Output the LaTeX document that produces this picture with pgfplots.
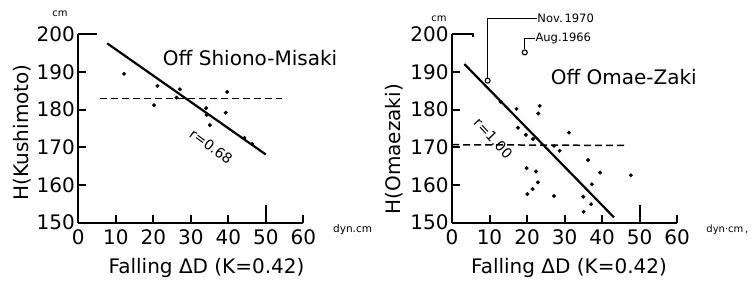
\documentclass[border=0pt]{standalone}
\usepackage{fontspec}
\setmainfont{DejaVu Sans}
\usepackage{pgfplots}
\pgfplotsset{compat=1.18}
\begin{document}
\begin{tikzpicture}
\pgfplotsset{
  panel/.style={
    scale only axis, width=225bp, height=188.4bp,
    xmin=0,xmax=60,ymin=150,ymax=200,
    axis x line*=bottom, axis y line*=left,
    axis line style={line width=1.8bp},
    xtick={0,10,...,60}, ytick={150,160,...,200},
    xtick align=inside, ytick align=inside,
    major tick length=8bp,
    every tick/.style={line width=2bp, black},
    clip=false,
    /pgf/number format/assume math mode=true,
    tick label style={font=\fontsize{20bp}{20bp}\selectfont},
    xticklabel style={yshift=-3bp},
    label style={font=\fontsize{20bp}{20bp}\selectfont},
  },
  dots/.style={only marks, mark=*, mark size=1.8bp, black},
  reg/.style={no marks, black, line width=2.2bp},
  avg/.style={no marks, black, line width=1.5bp, dash pattern=on 7bp off 4bp},
  seg/.style={no marks, black, line width=2bp},
}
% Left panel
\begin{axis}[panel, at={(78.3bp,65.3bp)}, anchor=south west,
  xlabel={Falling ΔD (K=0.42)},
  xlabel style={at={(axis description cs:0.57,0)}, anchor=center, yshift=-45bp},
  ylabel={H(Kushimoto)},
  ylabel style={at={(axis description cs:-0.249,0.48)}, anchor=center},
]
\addplot[dots] coordinates {
(12.2,189.5) (21.1,186.3) (27.1,185.4) (20.2,181.2) (26.2,183.2)
(39.7,184.7) (34.1,180.4) (34.2,178.6) (35.1,175.9) (39.3,179.2)
(44.3,172.5) (46.4,170.9)
};
\addplot[reg] coordinates {(7.7,197.6) (50,168.1)};
\addplot[avg] coordinates {(5.8,183.0) (54.2,183.0)};
\addplot[seg] coordinates {(0,200) (5,200)};
\addplot[seg] coordinates {(50,150) (50,154.7)};
\node[font=\fontsize{20bp}{20bp}\selectfont] at (axis cs:45.8,193.7) {Off Shiono-Misaki};
\node[font=\fontsize{14bp}{14bp}\selectfont, rotate=-36, inner sep=0pt] at (axis cs:35.4,170.3) {r=0.68};
\node[font=\fontsize{10bp}{10bp}\selectfont] at (axis cs:-4.9,205.4) {cm};
\node[font=\fontsize{10.5bp}{10.5bp}\selectfont, anchor=west, inner sep=0pt] at (axis cs:67.9,148.1) {dyn.cm};
\end{axis}
% Right panel
\begin{axis}[panel, at={(452bp,65.3bp)}, anchor=south west,
  xlabel={Falling ΔD (K=0.42)},
  xlabel style={at={(axis description cs:0.52,0)}, anchor=center, yshift=-45bp},
  ylabel={H(Omaezaki)},
  ylabel style={at={(axis description cs:-0.257,0.39)}, anchor=center},
]
\addplot[dots] coordinates {
(13.0,182.1) (17.2,180.2) (23.4,181.0) (23.0,179.0) (17.6,175.2)
(19.7,173.3) (21.6,172.2) (31.2,173.9) (28.7,169.1) (27.2,170.4)
(36.3,166.6) (19.9,164.5) (22.4,163.6) (22.9,160.7) (21.5,158.9)
(20.1,157.6) (27.2,157.1) (35.0,156.9) (35.1,152.9) (39.5,163.3)
(37.3,160.2) (37.1,154.9) (47.7,162.6)
};
\addplot[only marks, mark=o, mark size=2.5bp, black, line width=1.1bp] coordinates {(9.5,187.7) (19.4,195.2)};
\addplot[reg] coordinates {(3.3,192.1) (43.2,151.4)};
\addplot[avg] coordinates {(0,170.7) (46.3,170.5)};
\addplot[seg] coordinates {(0,200) (5.5,200) (5.5,199.4)};
\addplot[seg] coordinates {(50,150) (50,154.7)};
\addplot[no marks, black, line width=1.1bp] coordinates {(9.5,188.5) (9.5,204.2) (22.6,204.2)};
\addplot[no marks, black, line width=1.1bp] coordinates {(19.4,196.0) (19.4,198.9) (22.1,198.9)};
\node[font=\fontsize{11.5bp}{11.5bp}\selectfont, anchor=west, inner sep=0.5pt] at (axis cs:22.6,204.2) {Nov.\,1970};
\node[font=\fontsize{11.5bp}{11.5bp}\selectfont, anchor=west, inner sep=0.5pt] at (axis cs:22.1,198.9) {Aug.1966};
\node[font=\fontsize{20bp}{20bp}\selectfont] at (axis cs:45.8,188.6) {Off Omae-Zaki};
\node[font=\fontsize{14bp}{14bp}\selectfont, rotate=-47, inner sep=0pt] at (axis cs:11.0,172.4) {r=1.00};
\node[font=\fontsize{10bp}{10bp}\selectfont] at (axis cs:-3.5,204.0) {cm};
\node[font=\fontsize{10bp}{10bp}\selectfont, anchor=west, inner sep=0pt] at (axis cs:67.8,148.1) {dyn·cm\,,};
\end{axis}
\pgfresetboundingbox
\path (0,0) rectangle (752bp,288bp);
\end{tikzpicture}
\end{document}
